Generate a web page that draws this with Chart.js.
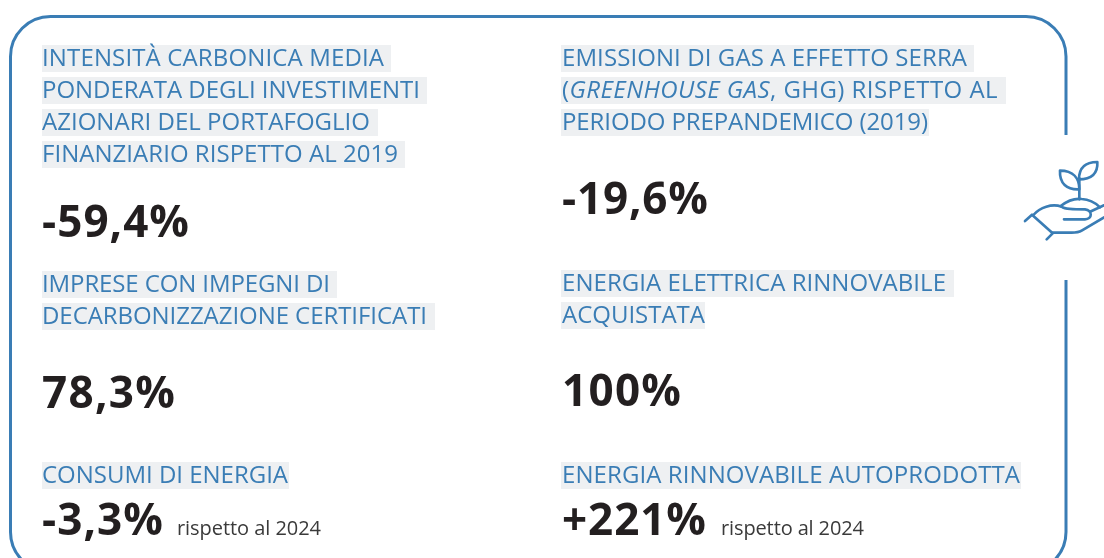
<!DOCTYPE html>
<html lang="it">
<head>
<meta charset="utf-8">
<title>Indicatori</title>
<script src="https://cdn.jsdelivr.net/npm/chart.js@4"></script>
<style>html,body{margin:0;padding:0;background:#fff;overflow:hidden}canvas{display:block}</style>
</head>
<body>
<canvas id="c" width="1104" height="558"></canvas>
<script>
// ---- data ----
const categories = [
  "Intensità carbonica media ponderata",
  "Emissioni di gas a effetto serra",
  "Imprese con impegni di decarbonizzazione certificati",
  "Energia elettrica rinnovabile acquistata",
  "Consumi di energia",
  "Energia rinnovabile autoprodotta"
];
const values = [-59.4, -19.6, 78.3, 100, -3.3, 221];
const valueLabels = ["-59,4%", "-19,6%", "78,3%", "100%", "-3,3%", "+221%"];
const notes = ["", "", "", "", "rispetto al 2024", "rispetto al 2024"];
const headingLines = [
  ["INTENSITÀ CARBONICA MEDIA", "PONDERATA DEGLI INVESTIMENTI", "AZIONARI DEL PORTAFOGLIO", "FINANZIARIO RISPETTO AL 2019"],
  ["EMISSIONI DI GAS A EFFETTO SERRA", "(|GREENHOUSE GAS|, GHG) RISPETTO AL", "PERIODO PREPANDEMICO (2019)"],
  ["IMPRESE CON IMPEGNI DI", "DECARBONIZZAZIONE CERTIFICATI"],
  ["ENERGIA ELETTRICA RINNOVABILE", "ACQUISTATA"],
  ["CONSUMI DI ENERGIA"],
  ["ENERGIA RINNOVABILE AUTOPRODOTTA"]
];

// ---- layout (page pixels) ----
const blocks = [
  {x:42,  rx:42,  base:[66,98,130,162], right:[384,420,370,398], bg:[391,427,378,405], vBase:237, vRight:189},
  {x:562, rx:561, base:[66,98,130],     right:[967,998,928],     bg:[974,1006,929],    vBase:214, vRight:708},
  {x:42,  rx:42,  base:[292,324],       right:[330,427],         bg:[337,435],         vBase:408, vRight:175},
  {x:562, rx:561, base:[291,323],       right:[946,705],         bg:[954,705],         vBase:406, vRight:681},
  {x:42,  rx:42,  base:[483],           right:[288],             bg:[289],             vBase:535, vRight:163, nX:177, nRight:321},
  {x:562, rx:561, base:[483],           right:[1020],            bg:[1021],            vBase:535, vRight:706, nX:721, nRight:864}
];
const BLUE = "#3a7db5", INK = "#231f20", NOTE = "#3a3a3a", BG = "#eef0f2";
const FAMILY = '"Open Sans", sans-serif';

function fitText(ctx, text, x, base, right) {
  ctx.letterSpacing = "0px";
  const w = ctx.measureText(text).width;
  ctx.letterSpacing = ((right - x - w) / Math.max(1, text.length - 1)).toFixed(3) + "px";
  ctx.fillText(text, x, base);
  ctx.letterSpacing = "0px";
}

const panel = {
  id: "panel",
  afterDraw(chart) {
    const ctx = chart.ctx;
    ctx.save();
    ctx.textBaseline = "alphabetic";
    ctx.textAlign = "left";
    // frame with a gap for the icon
    ctx.strokeStyle = BLUE; ctx.lineWidth = 3; ctx.lineCap = "butt";
    ctx.beginPath();
    ctx.moveTo(1066, 135);
    ctx.arcTo(1066, 16.5, 1026, 16.5, 40);
    ctx.arcTo(10.5, 16.5, 10.5, 57, 40);
    ctx.arcTo(10.5, 572, 51, 572, 40);
    ctx.arcTo(1066, 572, 1066, 532, 40);
    ctx.lineTo(1066, 280);
    ctx.stroke();
    // icon
    ctx.save();
    ctx.translate(1010, 120); ctx.scale(1/3, 1/3);
    ctx.lineWidth = 8; ctx.lineCap = "round"; ctx.lineJoin = "round";
    [
      "M150 152C190 152 208 175 208 208C170 210 148 190 150 152Z",
      "M262 126C225 126 207 145 207 178C245 178 264 160 262 126Z",
      "M208 175L208 238",
      "M152 258C175 240 200 235 215 237C240 238 258 250 270 262",
      "M70 285C90 262 125 250 155 260C165 268 190 268 225 268C248 270 248 298 225 298L162 298",
      "M282 292L215 332C205 338 195 338 185 338L128 338",
      "M240 275L282 256",
      "M45 303L66 284L128 340L110 358"
    ].forEach(d => ctx.stroke(new Path2D(d)));
    ctx.restore();
    // texts
    blocks.forEach((b, i) => {
      const font = '400 24px ' + FAMILY, ital = 'italic 400 24px ' + FAMILY;
      headingLines[i].forEach((line, j) => {
        const base = b.base[j];
        ctx.fillStyle = BG;
        ctx.fillRect(b.rx, base - 21, b.bg[j] - b.rx, 27);
        ctx.fillStyle = BLUE;
        const parts = line.split("|");
        if (parts.length === 1) {
          ctx.font = font;
          fitText(ctx, line, b.x, base, b.right[j]);
        } else {
          let total = 0, chars = 0;
          parts.forEach((p, k) => { ctx.font = k === 1 ? ital : font; total += ctx.measureText(p).width; chars += p.length; });
          const ls = (b.right[j] - b.x - total) / chars;
          let x = b.x;
          parts.forEach((p, k) => {
            ctx.font = k === 1 ? ital : font;
            ctx.letterSpacing = ls.toFixed(3) + "px";
            ctx.fillText(p, x, base);
            x += ctx.measureText(p).width;
            ctx.letterSpacing = "0px";
          });
        }
      });
      ctx.fillStyle = INK;
      ctx.font = '700 44px ' + FAMILY;
      fitText(ctx, valueLabels[i], b.x, b.vBase, b.vRight);
      if (notes[i]) {
        ctx.fillStyle = NOTE;
        ctx.font = '400 20px ' + FAMILY;
        fitText(ctx, notes[i], b.nX, b.vBase, b.nRight);
      }
    });
    ctx.restore();
  }
};

document.fonts.load('400 24px "Open Sans"').finally(() => {
  new Chart(document.getElementById("c"), {
    type: "bar",
    data: { labels: categories, datasets: [{ data: values, backgroundColor: "rgba(0,0,0,0)", borderWidth: 0 }] },
    options: {
      responsive: false,
      animation: false,
      layout: { padding: 0 },
      events: [],
      plugins: { legend: { display: false }, tooltip: { enabled: false }, title: { display: false } },
      scales: { x: { display: false }, y: { display: false } }
    },
    plugins: [panel]
  });
});
</script>
</body>
</html>
